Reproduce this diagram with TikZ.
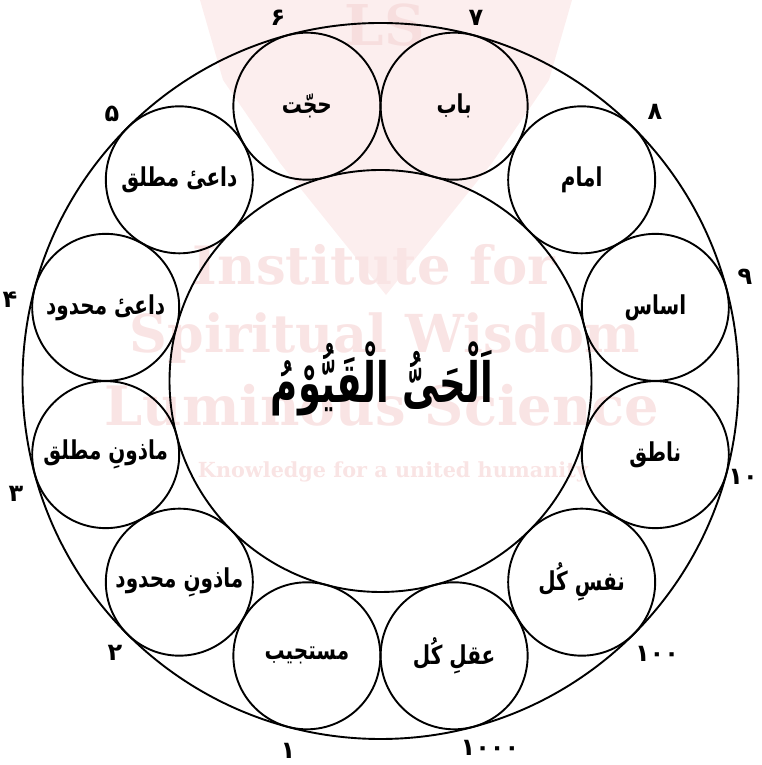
\documentclass[tikz,border=0pt]{standalone}
\usepackage{fontspec}
\usetikzlibrary{calc}
\TeXXeTstate=1
\newfontfamily\arabicfont[Script=Arabic]{DejaVu Sans}
\newfontfamily\urdudigits[Script=Arabic,Language=Urdu]{DejaVu Sans}
\newfontfamily\wmfont{DejaVu Serif}
\definecolor{wmtext}{RGB}{249,228,228}
\definecolor{wmshield}{RGB}{252,238,238}
\definecolor{wmls}{RGB}{247,222,222}
\newcommand{\urtxt}[1]{\scalebox{1}[1.3]{\beginR #1\endR}}
\begin{document}
\begin{tikzpicture}[x=1pt,y=1pt,
  ring/.style={circle, draw=black, line width=1.9pt, minimum size=147pt, inner sep=0pt},
  lbl/.style={inner sep=0pt, font=\arabicfont\bfseries\fontsize{20}{24}\selectfont},
  bigring/.style={circle, draw=black, line width=1.9pt, inner sep=0pt},
  num/.style={inner sep=0pt, font=\urdudigits\bfseries\fontsize{24}{28}\selectfont},
  wm/.style={inner sep=0pt, text=wmtext, font=\wmfont\bfseries}]
\useasboundingbox (0,0) rectangle (761,765);
\coordinate (C) at (380.5,384);
% watermark
\fill[wmshield] (200,765) -- (223,685) -- (280,602) -- (386,470) -- (492,602) -- (549,685) -- (572,765) -- cycle;
\node[wm, text=wmls] (wls) at (385,740) {\resizebox{80pt}{!}{LS}};
\node[wm] (w1) at (374,500) {\resizebox{362pt}{!}{Institute for}};
\node[wm] (w2) at (385,427) {\resizebox{510pt}{!}{Spiritual Wisdom}};
\node[wm] (w3) at (382,360) {\resizebox{555pt}{!}{Luminous Science}};
\node[wm] (w4) at (393,293) {\resizebox{390pt}{!}{Knowledge for a united humanity}};
% big circles
\node[bigring, minimum size=716pt] (outer) at (C) {};
\node[bigring, minimum size=422pt] (inner) at (C) {};
\node[inner sep=0pt, font=\arabicfont\bfseries\fontsize{37}{42}\selectfont] (title) at (382,386) {\scalebox{1}[1.5]{\beginR اَلْحَیُّ الْقَیُّوْمُ\endR}};
% ring of circles
\foreach \i/\a in {1/255,2/225,3/195,4/165,5/135,6/105,7/75,8/45,9/15,10/-15,11/-45,12/-75}
  \node[ring] (c\i) at ($(C)+(\a:284.5pt)$) {};
\node[lbl] (t1)  at (c1)  {\urtxt{مستجیب}};
\node[lbl] (t2)  at (c2)  {\urtxt{ماذونِ محدود}};
\node[lbl] (t3)  at (c3)  {\urtxt{ماذونِ مطلق}};
\node[lbl] (t4)  at (c4)  {\urtxt{داعیٔ محدود}};
\node[lbl] (t5)  at (c5)  {\urtxt{داعیٔ مطلق}};
\node[lbl] (t6)  at (c6)  {\urtxt{حجّت}};
\node[lbl] (t7)  at (c7)  {\urtxt{باب}};
\node[lbl] (t8)  at (c8)  {\urtxt{امام}};
\node[lbl] (t9)  at (c9)  {\urtxt{اساس}};
\node[lbl] (t10) at (c10) {\urtxt{ناطق}};
\node[lbl] (t11) at (c11) {\urtxt{نفسِ کُل}};
\node[lbl] (t12) at (c12) {\urtxt{عقلِ کُل}};
% numbers
\node[num] (n1)  at (288,14)  {۱};
\node[num] (n2)  at (115,112) {۲};
\node[num] (n3)  at (16,271)  {۳};
\node[num] (n4)  at (10,465)  {۴};
\node[num] (n5)  at (112,651) {۵};
\node[num] (n6)  at (278,747) {۶};
\node[num] (n7)  at (476,747) {۷};
\node[num] (n8)  at (655,653) {۸};
\node[num] (n9)  at (745,488) {۹};
\node[num] (n10) at (743,288) {۱۰};
\node[num] (n11) at (657,111) {۱۰۰};
\node[num] (n12) at (490,17)  {۱۰۰۰};
\end{tikzpicture}
\end{document}
